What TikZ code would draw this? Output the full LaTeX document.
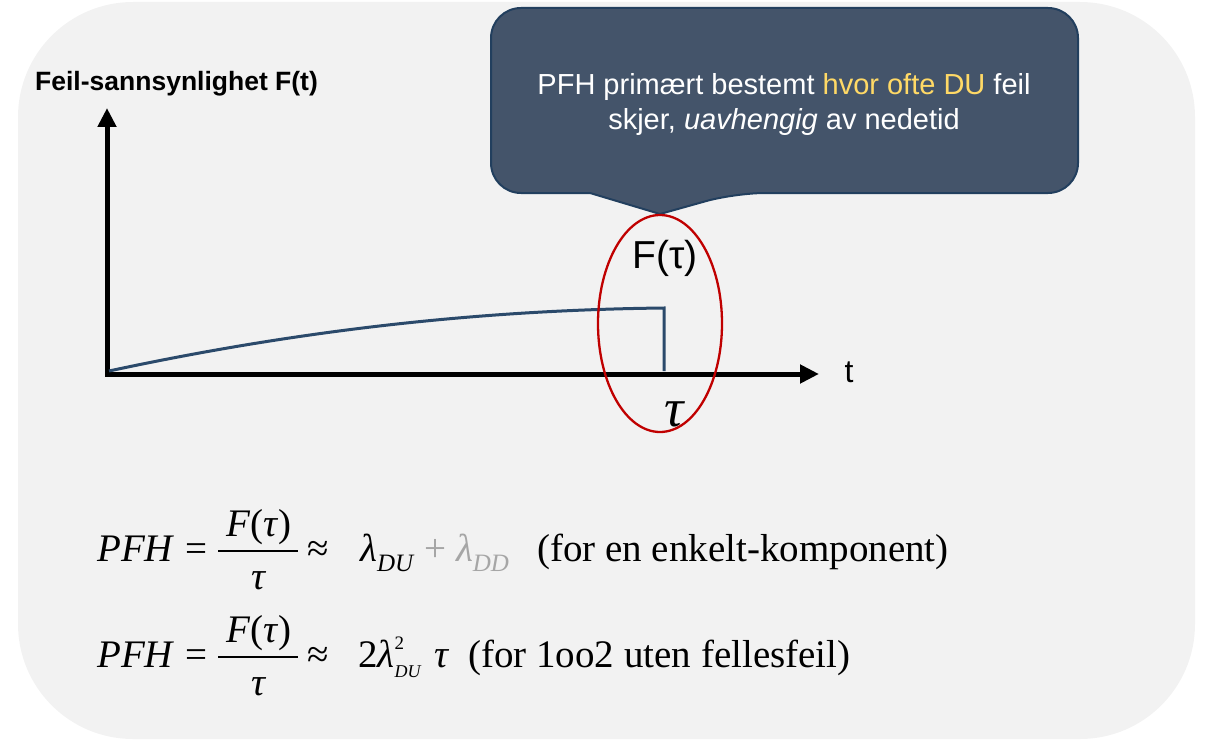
\documentclass[tikz,border=0pt]{standalone}
\usepackage{fontspec}
\setmainfont{Liberation Serif}
\newfontfamily\arialf{Liberation Sans}
\usetikzlibrary{arrows.meta,shapes.geometric}
\definecolor{bg}{HTML}{F2F2F2}
\definecolor{callfill}{HTML}{44546A}
\definecolor{calldraw}{HTML}{223F5E}
\definecolor{gold}{HTML}{FFD966}
\definecolor{curvec}{HTML}{2B4A6B}
\definecolor{ered}{HTML}{C00000}
\definecolor{lgray}{HTML}{A6A6A6}
\tikzset{
  axisline/.style={line width=5pt, line join=miter, {Triangle[length=19pt,width=18pt]}-{Triangle[length=19pt,width=18pt]}},
  fcurve/.style={curvec, line width=3pt, line join=miter},
  calltext/.style={text=white, font=\arialf\fontsize{29}{34}\selectfont, inner sep=0pt, anchor=base},
  fml/.style={font=\fontsize{39}{46}\selectfont, inner sep=0pt, anchor=base west},
  fmlc/.style={font=\fontsize{39}{46}\selectfont, inner sep=0pt, anchor=base},
}
\begin{document}
\begin{tikzpicture}[x=1pt,y=-1pt]
\useasboundingbox (0,0) rectangle (1210,741);
\fill[bg, rounded corners=115pt] (18,2) rectangle (1195,739);

% callout
\draw[calldraw, fill=callfill, line width=2pt]
  (491,100) [rounded corners=30pt] -- (491,8) -- (1078,8) -- (1078,193) -- (735,193)
  [sharp corners] -- (660,214) -- (590,193) [rounded corners=30pt] -- (491,193) -- cycle;
\node[calltext] (cl1) at (784,95) {PFH primært bestemt {\color{gold}hvor ofte DU} feil};
\node[calltext] (cl2) at (784,130) {skjer, \textit{uavhengig} av nedetid};

% axes
\coordinate (O) at (107,374);
\coordinate (ytip) at (107,108);
\coordinate (xtip) at (819,374);
\draw[axisline] (ytip) -- (O) -- (xtip);
\node[font=\arialf\bfseries\fontsize{26.5}{30}\selectfont, inner sep=0pt, anchor=base west] (ylab) at (35,91) {Feil-sannsynlighet F(t)};
\node[font=\arialf\fontsize{32}{36}\selectfont, inner sep=0pt, anchor=base] (xlab) at (849,382) {t};

% curve
\coordinate (c0) at (109,371);
\coordinate (c1) at (664,308);
\coordinate (c2) at (664,371);
\draw[fcurve] (c0) .. controls (300,330) and (480,310) .. (c1) -- (c2);

% labels + ellipse
\node[font=\arialf\fontsize{39}{42}\selectfont, inner sep=0pt, anchor=base] (Ftau) at (665,268) {F(τ)};
\node[font=\itshape\fontsize{54}{58}\selectfont, inner sep=0pt, anchor=base] (tau) at (674,426) {τ};
\node[ellipse, draw=ered, line width=2.3pt, minimum width=124pt, minimum height=217pt, inner sep=0pt] (circ) at (660,323.5) {};

% formula 1
\node[fml] (p1) at (97,561) {\textit{PFH}};
\node[fml] (e1) at (185,561) {=};
\node[fmlc] (n1) at (259,536) {\textit{F}(\textit{τ})};
\draw[line width=1.6pt] (218,551) -- (298,551);
\node[fmlc] (d1) at (259,589) {\textit{τ}};
\node[fml] (a1) at (307,561) {≈};
\node[fml] (r1) at (360,561) {\textit{λ}\raisebox{-10pt}{\fontsize{25}{25}\selectfont\textit{DU}} {\color{lgray}+ \textit{λ}\raisebox{-10pt}{\fontsize{25}{25}\selectfont\textit{DD}}}};
\node[fml] (t1) at (537,561) {(for en enkelt-komponent)};

% formula 2
\node[fml] (p2) at (97,667) {\textit{PFH}};
\node[fml] (e2) at (185,667) {=};
\node[fmlc] (n2) at (259,642) {\textit{F}(\textit{τ})};
\draw[line width=1.6pt] (218,657) -- (298,657);
\node[fmlc] (d2) at (259,695) {\textit{τ}};
\node[fml] (a2) at (307,667) {≈};
\node[fml] (r2) at (358,667) {2\textit{λ}\rlap{\raisebox{18pt}{\fontsize{19}{19}\selectfont 2}}\raisebox{-10pt}{\fontsize{18}{18}\selectfont\textit{DU}}};
\node[fml] (tt2) at (434,667) {\textit{τ}};
\node[fml] (t2) at (468,667) {(for 1oo2 uten fellesfeil)};
\end{tikzpicture}
\end{document}
